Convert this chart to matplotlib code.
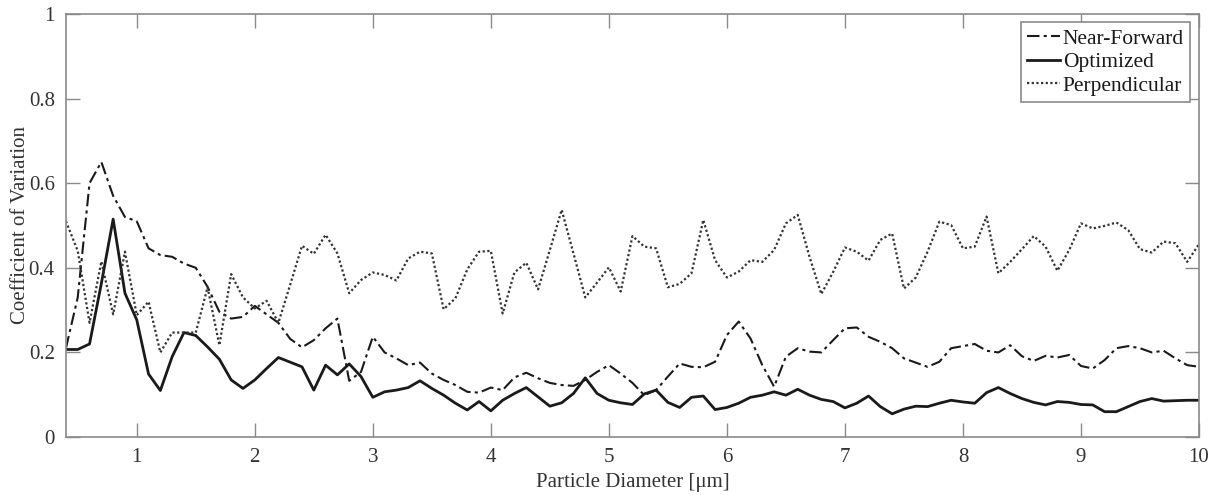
import numpy as np
import matplotlib
matplotlib.use("Agg")
import matplotlib.pyplot as plt

plt.rcParams["font.family"] = ["Liberation Serif", "DejaVu Serif"]

# particle diameter grid, 0.4 .. 10 um in 0.1 steps
diameter = np.round(np.arange(4, 101) / 10.0, 1)

near_forward = [
    0.21, 0.33, 0.60, 0.65, 0.57, 0.52, 0.51, 0.446, 0.43, 0.426,
    0.41, 0.40, 0.355, 0.296, 0.28, 0.284, 0.31, 0.29, 0.27, 0.232,
    0.212, 0.229, 0.257, 0.28, 0.133, 0.154, 0.237, 0.20, 0.186, 0.17,
    0.176, 0.15, 0.135, 0.123, 0.107, 0.105, 0.117, 0.111, 0.141, 0.152,
    0.139, 0.128, 0.123, 0.121, 0.135, 0.154, 0.17, 0.15, 0.128, 0.099,
    0.111, 0.143, 0.174, 0.166, 0.165, 0.178, 0.241, 0.273, 0.233, 0.17,
    0.119, 0.19, 0.21, 0.202, 0.20, 0.229, 0.257, 0.259, 0.237, 0.225,
    0.21, 0.186, 0.176, 0.166, 0.178, 0.21, 0.215, 0.22, 0.204, 0.20,
    0.217, 0.191, 0.18, 0.192, 0.188, 0.194, 0.168, 0.162, 0.182, 0.21,
    0.215, 0.21, 0.20, 0.204, 0.186, 0.17, 0.166,
]

optimized = [
    0.207, 0.207, 0.22, 0.363, 0.515, 0.34, 0.277, 0.149, 0.11, 0.19,
    0.247, 0.24, 0.213, 0.184, 0.135, 0.115, 0.135, 0.162, 0.188, 0.177,
    0.166, 0.111, 0.17, 0.147, 0.173, 0.143, 0.094, 0.107, 0.111, 0.117,
    0.133, 0.115, 0.099, 0.08, 0.064, 0.084, 0.062, 0.087, 0.103, 0.117,
    0.095, 0.073, 0.081, 0.103, 0.14, 0.103, 0.087, 0.081, 0.077, 0.102,
    0.111, 0.082, 0.07, 0.094, 0.097, 0.065, 0.07, 0.08, 0.094, 0.099,
    0.107, 0.099, 0.113, 0.099, 0.089, 0.084, 0.069, 0.08, 0.097, 0.072,
    0.055, 0.066, 0.073, 0.072, 0.08, 0.087, 0.083, 0.08, 0.105, 0.117,
    0.103, 0.091, 0.082, 0.076, 0.084, 0.082, 0.077, 0.076, 0.06, 0.06,
    0.072, 0.084, 0.091, 0.085, 0.086, 0.087, 0.087,
]

perpendicular = [
    0.51, 0.44, 0.27, 0.415, 0.29, 0.438, 0.288, 0.32, 0.20, 0.247,
    0.247, 0.247, 0.354, 0.217, 0.385, 0.33, 0.304, 0.322, 0.27, 0.36,
    0.452, 0.433, 0.478, 0.434, 0.34, 0.371, 0.389, 0.383, 0.37, 0.422,
    0.438, 0.434, 0.302, 0.328, 0.396, 0.438, 0.44, 0.292, 0.389, 0.412,
    0.349, 0.442, 0.537, 0.434, 0.33, 0.365, 0.401, 0.344, 0.475, 0.45,
    0.446, 0.354, 0.362, 0.387, 0.513, 0.418, 0.377, 0.391, 0.418, 0.414,
    0.442, 0.505, 0.525, 0.426, 0.338, 0.39, 0.448, 0.438, 0.417, 0.466,
    0.481, 0.351, 0.377, 0.438, 0.509, 0.501, 0.446, 0.45, 0.521, 0.387,
    0.414, 0.444, 0.475, 0.45, 0.393, 0.442, 0.505, 0.493, 0.499, 0.507,
    0.489, 0.444, 0.436, 0.462, 0.458, 0.414, 0.456,
]

x_ticks = list(range(1, 11))
y_ticks = [0, 0.2, 0.4, 0.6, 0.8, 1.0]
y_tick_labels = ["0", "0.2", "0.4", "0.6", "0.8", "1"]

fig = plt.figure(figsize=(12.21, 4.95), dpi=100)
ax = fig.add_axes([0.054, 0.117, 0.928, 0.855])

ink = "#1a1a1a"
ax.plot(diameter, near_forward, color=ink, lw=1.5,
        linestyle=(0, (6, 2, 1.5, 2)), label="Near-Forward")
ax.plot(diameter, optimized, color=ink, lw=2.0, linestyle="-", label="Optimized")
ax.plot(diameter, perpendicular, color="#333333", lw=1.6,
        linestyle=(0, (1, 1.1)), label="Perpendicular")

ax.set_xlim(0.4, 10)
ax.set_ylim(0, 1)
ax.set_xticks(x_ticks)
ax.set_xticklabels([str(t) for t in x_ticks])
ax.set_yticks(y_ticks)
ax.set_yticklabels(y_tick_labels)

axis_grey = "#8a8a8a"
for s in ax.spines.values():
    s.set_color(axis_grey)
    s.set_linewidth(1.2)
ax.tick_params(direction="in", length=10, width=1.0, color=axis_grey,
               top=True, right=True, labelsize=15, labelcolor="#333333", pad=8)

ax.set_xlabel("Particle Diameter [\u03bcm]", fontsize=15, color="#333333", labelpad=4)
ax.set_ylabel("Coefficient of Variation", fontsize=15, color="#333333", labelpad=-1)

leg = ax.legend(loc="upper right", fontsize=15.5, handlelength=1.5, handletextpad=0.15,
                borderpad=0.3, labelspacing=0.15, fancybox=False, framealpha=1,
                borderaxespad=0.4)
leg.get_frame().set_edgecolor(axis_grey)
leg.get_frame().set_linewidth(1.2)
for t in leg.get_texts():
    t.set_color("#1a1a1a")

fig.savefig("out.png", dpi=100)
